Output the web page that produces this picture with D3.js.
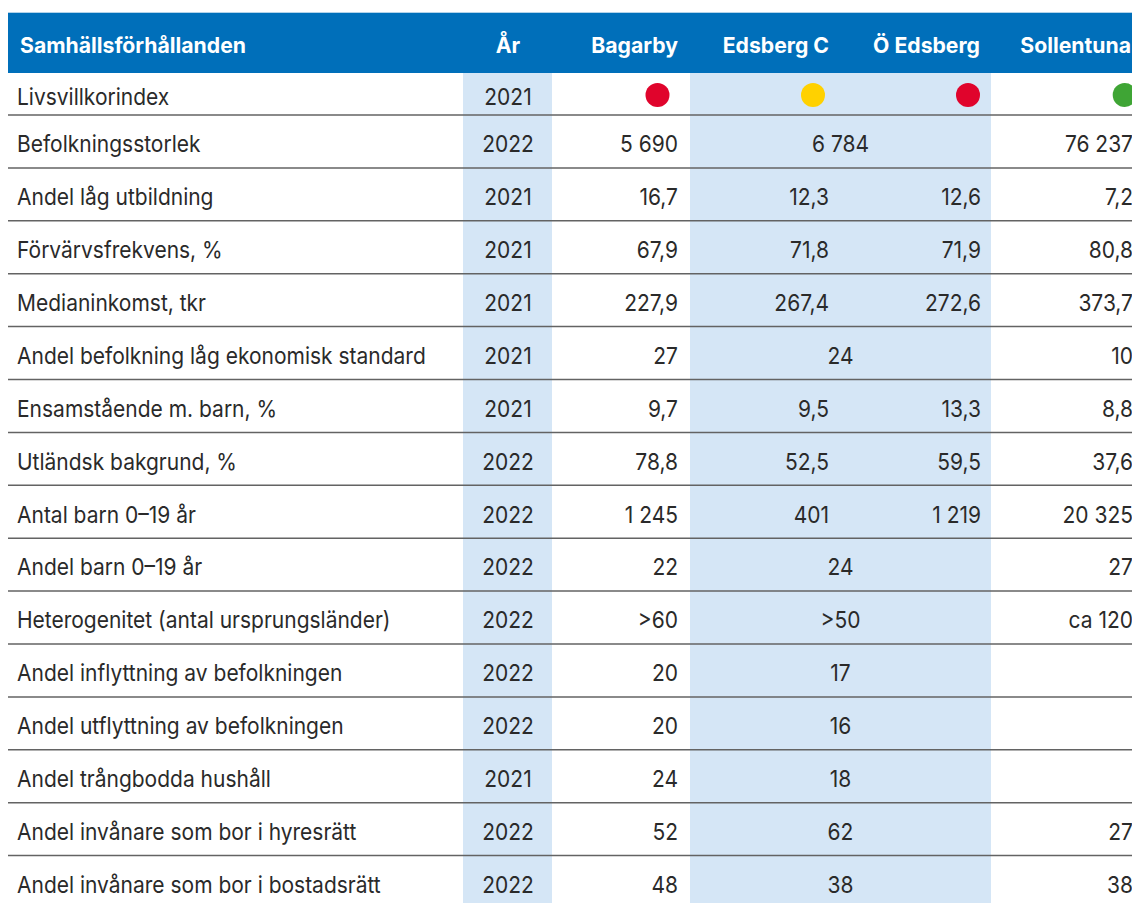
<!DOCTYPE html>
<html>
<head>
<meta charset="utf-8">
<script src="https://cdn.jsdelivr.net/npm/d3@7"></script>
<style>
  body { margin: 0; background: #fff; }
  text { font-family: Inter, "Noto Sans", sans-serif; }
</style>
</head>
<body>
<div id="table"></div>
<script>
// --- data ---
const headers = ["Samhällsförhållanden", "År", "Bagarby", "Edsberg C", "Ö Edsberg", "Sollentuna"];
const indicators = [
  "Livsvillkorindex",
  "Befolkningsstorlek",
  "Andel låg utbildning",
  "Förvärvsfrekvens, %",
  "Medianinkomst, tkr",
  "Andel befolkning låg ekonomisk standard",
  "Ensamstående m. barn, %",
  "Utländsk bakgrund, %",
  "Antal barn 0–19 år",
  "Andel barn 0–19 år",
  "Heterogenitet (antal ursprungsländer)",
  "Andel inflyttning av befolkningen",
  "Andel utflyttning av befolkningen",
  "Andel trångbodda hushåll",
  "Andel invånare som bor i hyresrätt",
  "Andel invånare som bor i bostadsrätt"
];
const years = ["2021", "2022", "2021", "2021", "2021", "2021", "2021", "2022", "2022", "2022", "2022", "2022", "2022", "2021", "2022", "2022"];
// livsvillkorindex shown as traffic lights
const indexLevel = { bagarby: "röd", edsbergC: "gul", oEdsberg: "röd", sollentuna: "grön" };
const bagarby    = [null, "5 690", "16,7", "67,9", "227,9", "27", "9,7", "78,8", "1 245", "22", ">60", "20", "20", "24", "52", "48"];
const edsbergC   = [null, null, "12,3", "71,8", "267,4", null, "9,5", "52,5", "401", null, null, null, null, null, null, null];
const oEdsberg   = [null, null, "12,6", "71,9", "272,6", null, "13,3", "59,5", "1 219", null, null, null, null, null, null, null];
// values reported for Edsberg C and Ö Edsberg together
const edsbergSamlat = [null, "6 784", null, null, null, "24", null, null, null, "24", ">50", "17", "16", "18", "62", "38"];
const sollentuna = [null, "76 237", "7,2", "80,8", "373,7", "10", "8,8", "37,6", "20 325", "27", "ca 120", null, null, null, "27", "38"];

// --- layout ---
const W = 1132, H = 903;
const headTop = 12.7, headBottom = 73, firstRowBottom = 115, rowStep = 52.9;
const left = 8;
const textColor = "#2a2a2a";
const blue = "#006FBA", shade = "#D5E6F6", ruleColor = "#636363";
const levelColor = d3.scaleOrdinal().domain(["röd", "gul", "grön"]).range(["#E0042C", "#FFD100", "#3FA535"]);
const vstretch = 1.12;

// column anchors
const colKeys = ["label", "year", "bagarby", "edsbergC", "oEdsberg", "sollentuna", "edsberg"];
const colX = d3.scaleOrdinal().domain(colKeys).range([17, 508, 678, 829, 981, 1133, 840.5]);
const colAnchor = d3.scaleOrdinal().domain(colKeys).range(["start", "middle", "end", "end", "end", "end", "middle"]);
const dotX = d3.scaleOrdinal().domain(["bagarby", "edsbergC", "oEdsberg", "sollentuna"]).range([657.5, 813, 968, 1124.7]);

// row lines: line i sits below row i
const lineY = d3.scaleLinear().domain([0, 1]).range([firstRowBottom, firstRowBottom + rowStep]);
const rowTop = i => i === 0 ? headBottom : lineY(i - 1);
const rowMid = i => (rowTop(i) + lineY(i)) / 2;

const svg = d3.select("#table").append("svg")
  .attr("width", W).attr("height", H);

// shaded columns
svg.append("rect").attr("x", 463).attr("y", headBottom).attr("width", 552 - 463).attr("height", H - headBottom).attr("fill", shade);
svg.append("rect").attr("x", 690).attr("y", headBottom).attr("width", 991 - 690).attr("height", H - headBottom).attr("fill", shade);

// header band
svg.append("rect").attr("x", left).attr("y", headTop).attr("width", W - left).attr("height", headBottom - headTop).attr("fill", blue);

const headerKeys = ["label", "year", "bagarby", "edsbergC", "oEdsberg", "sollentuna"];
const headerX = { label: 20, year: 508, bagarby: 678, edsbergC: 829, oEdsberg: 980, sollentuna: 1131 };
svg.append("g").selectAll("text")
  .data(headers)
  .join("text")
  .attr("transform", (d, i) => `translate(${headerX[headerKeys[i]]},52.7) scale(1,1.02)`)
  .attr("text-anchor", (d, i) => colAnchor(headerKeys[i]))
  .attr("fill", "#fff")
  .style("font-size", "21.2px")
  .style("font-weight", 700)
  .text(d => d);

// rules
svg.append("g").selectAll("line")
  .data(d3.range(indicators.length - 1))
  .join("line")
  .attr("x1", left).attr("x2", W)
  .attr("y1", d => lineY(d)).attr("y2", d => lineY(d))
  .attr("stroke", ruleColor)
  .attr("stroke-width", 1.5);

// cells
const cells = [];
indicators.forEach((name, i) => {
  cells.push({ row: i, col: "label", v: name });
  cells.push({ row: i, col: "year", v: years[i] });
  if (bagarby[i] != null) cells.push({ row: i, col: "bagarby", v: bagarby[i] });
  if (edsbergC[i] != null) cells.push({ row: i, col: "edsbergC", v: edsbergC[i] });
  if (oEdsberg[i] != null) cells.push({ row: i, col: "oEdsberg", v: oEdsberg[i] });
  if (edsbergSamlat[i] != null) cells.push({ row: i, col: "edsberg", v: edsbergSamlat[i] });
  if (sollentuna[i] != null) cells.push({ row: i, col: "sollentuna", v: sollentuna[i] });
});

svg.append("g").selectAll("text")
  .data(cells)
  .join("text")
  .attr("transform", d => `translate(${colX(d.col)},${rowMid(d.row) + 10.8}) scale(1,${vstretch})`)
  .attr("text-anchor", d => colAnchor(d.col))
  .attr("fill", textColor)
  .style("font-size", "21px")
  .text(d => d.v);

// traffic light dots
svg.append("g").selectAll("circle")
  .data(Object.entries(indexLevel))
  .join("circle")
  .attr("cx", d => dotX(d[0]))
  .attr("cy", rowMid(0) + 1)
  .attr("r", 12)
  .attr("fill", d => levelColor(d[1]));
</script>
</body>
</html>
